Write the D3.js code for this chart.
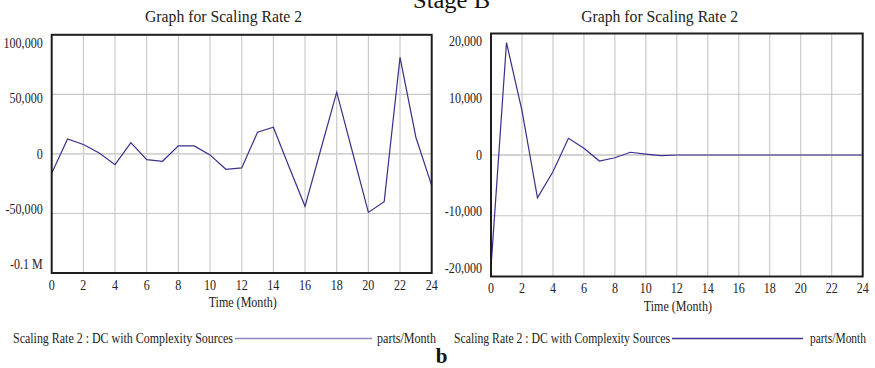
<!DOCTYPE html>
<html>
<head>
<meta charset="utf-8">
<script src="https://cdn.jsdelivr.net/npm/d3@7"></script>
<style>
  html, body { margin: 0; padding: 0; background: #fff; }
  svg { display: block; font-family: "Liberation Serif", "Times New Roman", serif; }
</style>
</head>
<body>
<svg id="chart" width="875" height="368"></svg>
<script>
// Simulation output: Scaling Rate 2, DC with Complexity Sources (parts/Month)
const months = [0, 1, 2, 3, 4, 5, 6, 7, 8, 9, 10, 11, 12, 13, 14, 15, 16, 17, 18, 19, 20, 21, 22, 23, 24];

const leftValues = [-16300, 12600, 7900, 800, -9000, 9500, -4800, -6200, 6700, 6700, -850,
                    -12900, -11800, 18200, 22400, -11200, -44000, 3900, 51800, 1400, -49100,
                    -40100, 81000, 14000, -26600];
const rightValues = [-18500, 18500, 7300, -7050, -2750, 2750, 1100, -1000, -450, 450, 150,
                     -100, 0, 0, 0, 0, 0, 0, 0, 0, 0, 0, 0, 0, 0];

const xTicks = [0, 2, 4, 6, 8, 10, 12, 14, 16, 18, 20, 22, 24];
const leftYTicks = [100000, 50000, 0, -50000, -100000];
const leftYLabels = ["100,000", "50,000", "0", "-50,000", "-0.1 M"];
const rightYTicks = [20000, 10000, 0, -10000, -20000];
const rightYLabels = ["20,000", "10,000", "0", "-10,000", "-20,000"];

const chartTitle = "Graph for Scaling Rate 2";
const stageTitle = "Stage B";
const xAxisTitle = "Time (Month)";
const legendName = "Scaling Rate 2 : DC with Complexity Sources";
const legendUnit = "parts/Month";
const panelTag = "b";

const svg = d3.select("#chart");
const LINE = "#3a2f8c";
const SQUEEZE = 0.86; // narrow serif glyph width

function panel(cfg) {
  const g = svg.append("g");
  const x = d3.scaleLinear().domain([0, 24]).range([cfg.left, cfg.right]);
  const y = d3.scaleLinear().domain(cfg.yDomain).range([cfg.bottom, cfg.top]);
  // tick labels sit on an inset copy of the y scale
  const yLab = d3.scaleLinear().domain(cfg.yDomain).range([cfg.bottom - 8.3, cfg.top + 8.3]);

  // grid
  g.append("g").selectAll("line.v").data(xTicks.slice(1, -1)).join("line")
    .attr("x1", d => x(d)).attr("x2", d => x(d))
    .attr("y1", cfg.top).attr("y2", cfg.bottom)
    .attr("stroke", "#c6c6c6").attr("stroke-width", 1.1);
  g.append("g").selectAll("line.h").data(cfg.yTicks.slice(1, -1)).join("line")
    .attr("x1", cfg.left).attr("x2", cfg.right)
    .attr("y1", d => y(d)).attr("y2", d => y(d))
    .attr("stroke", d => d === 0 ? "#d2d2d2" : "#c6c6c6")
    .attr("stroke-width", d => d === 0 ? 1.8 : 1.1);

  // series
  const line = d3.line().x((d, i) => x(months[i])).y(d => y(d));
  g.append("path").datum(cfg.values)
    .attr("d", line).attr("fill", "none")
    .attr("stroke", LINE).attr("stroke-width", 1.2).attr("stroke-linejoin", "miter");

  // frame
  g.append("rect")
    .attr("x", cfg.left).attr("y", cfg.top)
    .attr("width", cfg.right - cfg.left).attr("height", cfg.bottom - cfg.top)
    .attr("fill", "none").attr("stroke", "#1e1e1e").attr("stroke-width", 2);

  // y labels
  g.append("g").selectAll("text").data(cfg.yTicks).join("text")
    .attr("class", "sq")
    .attr("x", cfg.left - 9).attr("y", d => yLab(d) + 4.6)
    .attr("text-anchor", "end").attr("font-size", 14).attr("fill", "#222")
    .text((d, i) => cfg.yLabels[i]);

  // x labels
  g.append("g").selectAll("text").data(xTicks).join("text")
    .attr("class", "sq")
    .attr("x", d => x(d)).attr("y", cfg.bottom + 16.5)
    .attr("text-anchor", "middle").attr("font-size", 14).attr("fill", "#222")
    .text(d => d);

  g.append("text").attr("class", "sq")
    .attr("x", (cfg.left + cfg.right) / 2 + 1).attr("y", cfg.bottom + 34)
    .attr("text-anchor", "middle").attr("font-size", 14).attr("fill", "#222")
    .text(xAxisTitle);

  // panel title
  g.append("text")
    .attr("x", cfg.titleX).attr("y", 21.5)
    .attr("text-anchor", "middle").attr("font-size", 17.5).attr("fill", "#222")
    .attr("textLength", 157).attr("lengthAdjust", "spacingAndGlyphs")
    .text(chartTitle);

  // legend
  const ly = 338.5;
  g.append("text").attr("x", cfg.legX).attr("y", ly + 4.3)
    .attr("font-size", 14).attr("fill", "#222")
    .attr("textLength", cfg.legTextW).attr("lengthAdjust", "spacingAndGlyphs")
    .text(legendName);
  g.append("line")
    .attr("x1", cfg.legLine[0]).attr("x2", cfg.legLine[1])
    .attr("y1", ly).attr("y2", ly)
    .attr("stroke", cfg.legColor).attr("stroke-width", 1.4);
  g.append("text").attr("x", cfg.legUnitX).attr("y", ly + 4.3)
    .attr("font-size", 14).attr("fill", "#222")
    .attr("textLength", cfg.legUnitW).attr("lengthAdjust", "spacingAndGlyphs")
    .text(legendUnit);
}

panel({
  left: 51.7, right: 431.7, top: 34.8, bottom: 273,
  yDomain: [-100000, 100000], yTicks: leftYTicks, yLabels: leftYLabels,
  values: leftValues, titleX: 223.5,
  legX: 13, legTextW: 220, legLine: [235, 372], legColor: "#8e86c2",
  legUnitX: 377, legUnitW: 59
});

panel({
  left: 491, right: 862.7, top: 33.5, bottom: 276.5,
  yDomain: [-20000, 20000], yTicks: rightYTicks, yLabels: rightYLabels,
  values: rightValues, titleX: 659.7,
  legX: 454, legTextW: 216, legLine: [672, 803], legColor: "#3b3790",
  legUnitX: 810, legUnitW: 56
});

// narrow the axis labels to the serif's condensed width
svg.selectAll("text.sq").each(function () {
  const w = this.getComputedTextLength();
  d3.select(this).attr("textLength", w * SQUEEZE).attr("lengthAdjust", "spacingAndGlyphs");
});

// stage heading and panel tag
svg.append("text")
  .attr("x", 451.5).attr("y", 7.5)
  .attr("text-anchor", "middle").attr("font-size", 24).attr("fill", "#111")
  .attr("textLength", 77).attr("lengthAdjust", "spacingAndGlyphs")
  .text(stageTitle);

svg.append("text")
  .attr("x", 441.7).attr("y", 363)
  .attr("text-anchor", "middle").attr("font-size", 21).attr("font-weight", "bold")
  .attr("fill", "#111")
  .text(panelTag);
</script>
</body>
</html>
